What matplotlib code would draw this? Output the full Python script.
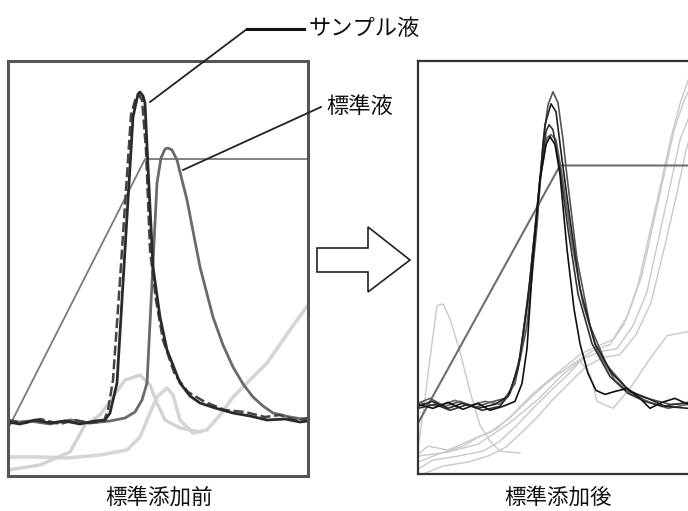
import matplotlib
matplotlib.use("Agg")
import matplotlib.pyplot as plt
from matplotlib.patches import Polygon

plt.rcParams['font.family'] = ['Noto Sans CJK JP', 'DejaVu Sans']

# --- before standard addition (time, signal) ---
grad_before_t = [2, 137, 300]
grad_before_s = [51, 317, 317]

sample1_t = [0, 12, 27, 42, 57, 72, 87, 97, 102, 109, 115, 120, 125, 130, 132, 135, 137, 140, 145,
             152, 159, 172, 182, 192, 207, 225, 242, 259, 277, 292, 300]
sample1_s = [54, 52, 56, 53, 55, 52, 55, 56, 63, 93, 193, 276, 359, 382, 384, 380, 373, 309, 209,
             159, 126, 93, 80, 73, 68, 63, 60, 56, 57, 54, 55]

sample2_t = [0, 17, 32, 52, 67, 82, 96, 100, 105, 112, 118, 123, 128, 131, 134, 138, 142, 148,
             155, 167, 180, 197, 217, 237, 257, 272, 287, 300]
sample2_s = [56, 53, 57, 52, 56, 53, 55, 66, 96, 196, 286, 361, 379, 381, 376, 326, 226, 176,
             136, 101, 84, 74, 66, 64, 59, 61, 56, 58]

standard_t = [0, 22, 42, 62, 82, 102, 117, 127, 134, 139, 144, 149, 153, 157, 160, 164, 169, 179,
              192, 205, 215, 225, 235, 245, 255, 265, 282, 300]
standard_s = [53, 55, 52, 56, 53, 55, 58, 64, 76, 93, 193, 293, 318, 327, 328, 326, 316, 276,
              209, 159, 131, 109, 92, 79, 70, 63, 59, 56]

faintA_t = [0, 32, 62, 77, 92, 105, 117, 132, 142, 149, 157, 172, 192]
faintA_s = [6, 11, 24, 51, 61, 79, 96, 101, 91, 73, 56, 48, 44]

faintB_t = [0, 32, 59, 92, 119, 132, 142, 149, 159, 165, 172, 185, 199, 212, 225, 259, 282, 300]
faintB_s = [19, 19, 18, 21, 26, 39, 63, 79, 88, 81, 56, 43, 46, 61, 79, 113, 146, 171]

# --- after standard addition (time, signal) ---
grad_after_t = [0, 142, 302]
grad_after_s = [51, 310, 310]

run1_t = [0, 12, 27, 42, 57, 72, 87, 97, 109, 119, 125, 130, 135, 140, 145, 149, 159, 172, 189,
          209, 222, 237, 252, 270, 302]
run1_s = [71, 76, 68, 73, 67, 72, 76, 91, 149, 249, 333, 371, 384, 373, 336, 299, 216, 149, 109,
          86, 78, 74, 70, 71, 71]

run2_t = [0, 14, 30, 44, 60, 77, 90, 100, 110, 120, 127, 133, 138, 144, 152, 162, 177, 194, 212,
          230, 247, 270, 302]
run2_s = [68, 73, 66, 71, 66, 70, 78, 106, 176, 276, 351, 372, 364, 316, 256, 186, 131, 101, 83,
          76, 68, 66, 68]

run3_t = [0, 17, 32, 50, 64, 82, 92, 102, 112, 122, 128, 131, 135, 142, 150, 160, 174, 192, 210,
          227, 244, 270, 302]
run3_s = [66, 70, 64, 70, 64, 68, 81, 116, 196, 296, 344, 351, 346, 306, 246, 181, 131, 98, 81,
          73, 68, 72, 70]

run4_t = [0, 20, 37, 52, 67, 82, 94, 104, 114, 123, 129, 133, 138, 144, 154, 165, 179, 197, 214,
          232, 250, 270, 302]
run4_s = [72, 68, 74, 69, 73, 70, 86, 126, 206, 301, 338, 341, 336, 301, 231, 171, 124, 94, 80,
          72, 66, 70, 72]

run5_t = [0, 15, 30, 45, 60, 72, 85, 97, 104, 109, 115, 122, 128, 132, 137, 142, 149, 156, 162,
          170, 178, 187, 197, 209, 222, 232, 244, 257, 270, 302]
run5_s = [70, 66, 72, 65, 71, 64, 68, 73, 91, 126, 216, 296, 331, 339, 331, 301, 226, 166, 131,
          101, 84, 80, 83, 86, 76, 66, 72, 76, 70, 71]

early_t = [0, 7, 12, 19, 25, 32, 42, 52, 62, 72, 82, 102]
early_s = [26, 76, 116, 169, 171, 156, 123, 83, 49, 33, 23, 21]

rise1_t = [0, 15, 40, 65, 82, 99, 115, 132, 149, 165, 182, 199, 215, 229, 242, 252, 262, 270, 282]
rise1_s = [5, 14, 18, 23, 33, 49, 66, 83, 99, 116, 123, 126, 149, 183, 243, 289, 336, 356, 396]
rise2_t = [0, 20, 45, 62, 78, 95, 112, 128, 145, 162, 178, 195, 210, 224, 236, 246, 256, 266, 280]
rise2_s = [12, 20, 28, 38, 45, 60, 78, 92, 106, 120, 128, 135, 160, 200, 255, 300, 345, 375, 405]
rise3_t = [5, 25, 50, 70, 88, 104, 120, 136, 152, 168, 185, 202, 218, 233, 247, 258, 268, 278, 292]
rise3_s = [0, 8, 12, 18, 27, 42, 58, 76, 92, 108, 117, 120, 140, 172, 230, 278, 325, 360, 395]
rise4_t = [0, 10, 30, 55, 72, 90, 108, 125, 140, 157, 175, 192, 207, 220, 233, 243, 253, 262, 275]
rise4_s = [20, 28, 24, 35, 42, 55, 72, 88, 100, 112, 124, 130, 152, 190, 248, 292, 338, 372, 410]

low_t = [0, 30, 60, 90, 120, 145, 162, 172, 179, 195, 212, 232, 249, 270, 302]
low_s = [18, 22, 30, 50, 75, 100, 114, 100, 73, 66, 86, 116, 139, 143, 146]

W, H = 688, 511
fig = plt.figure(figsize=(6.88, 5.11), dpi=100)


def panel_axes(left, top, width, height):
    return fig.add_axes([left / W, (H - top - height) / H, width / W, height / H])


ax1 = panel_axes(8, 61, 300, 415)
ax2 = panel_axes(418, 61, 300, 413)

for ax, edge, lw in [(ax1, '#555555', 2.2), (ax2, '#333333', 1.6)]:
    ax.set_xlim(0, 300)
    ax.set_ylim(0, 415)
    ax.set_xticks([])
    ax.set_yticks([])
    for sp in ax.spines.values():
        sp.set_color(edge)
        sp.set_linewidth(lw)

# left panel
ax1.plot(faintB_t, faintB_s, color='#d6d6d6', lw=2.6)
ax1.plot(faintA_t, faintA_s, color='#d2d2d2', lw=2.4)
ax1.plot(grad_before_t, grad_before_s, color='#7a7a7a', lw=1.3)
ax1.plot(standard_t, standard_s, color='#6a6a6a', lw=2.0)
ax1.plot(sample2_t, sample2_s, color='#444444', lw=1.8, ls=(0, (4, 1.5)))
ax1.plot(sample1_t, sample1_s, color='#2a2a2a', lw=2.0)

# right panel
for t, s in [(early_t, early_s), (rise1_t, rise1_s), (rise2_t, rise2_s),
             (rise3_t, rise3_s), (rise4_t, rise4_s), (low_t, low_s)]:
    ax2.plot(t, s, color='#c8c8c8', lw=1.0)
ax2.plot(grad_after_t, grad_after_s, color='#6e6e6e', lw=1.5)
ax2.plot(run1_t, run1_s, color='#555555', lw=1.2)
ax2.plot(run4_t, run4_s, color='#666666', lw=1.2)
ax2.plot(run3_t, run3_s, color='#333333', lw=1.2)
ax2.plot(run2_t, run2_s, color='#222222', lw=1.2)
ax2.plot(run5_t, run5_s, color='#111111', lw=1.2)

# overlay for annotations in pixel space
ov = fig.add_axes([0, 0, 1, 1], zorder=10)
ov.set_xlim(0, W)
ov.set_ylim(H, 0)
ov.axis('off')
ov.patch.set_alpha(0)

ov.plot([150, 247], [102, 29], color='#222222', lw=1.3)
ov.plot([247, 304], [29, 29], color='#111111', lw=2.2)
ov.text(309, 28, 'サンプル液', fontsize=16, va='center', ha='left', color='#111111')

ov.plot([183, 321], [170, 107], color='#222222', lw=1.3)
ov.text(326, 106, '標準液', fontsize=16, va='center', ha='left', color='#111111')

arrow = Polygon([(317, 248), (368, 248), (368, 227), (410, 260), (368, 292), (368, 272), (317, 272)],
                closed=True, facecolor='white', edgecolor='#222222', lw=1.2)
ov.add_patch(arrow)

ov.text(159, 498, '標準添加前', fontsize=15.5, ha='center', va='center', color='#111111')
ov.text(558, 498, '標準添加後', fontsize=15.5, ha='center', va='center', color='#111111')

fig.savefig('out.png', dpi=100)
